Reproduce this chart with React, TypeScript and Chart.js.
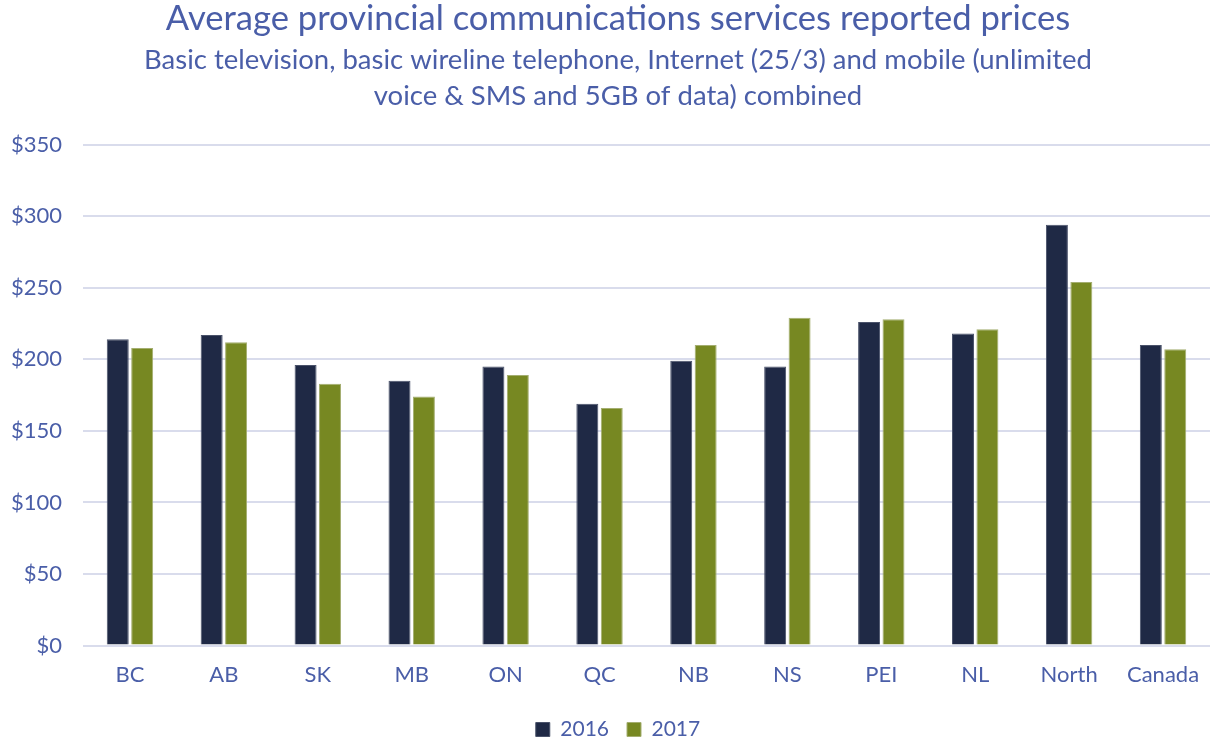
import React, { useEffect, useRef } from "react";
import { Chart, registerables } from "chart.js";

Chart.register(...registerables);

const categories = ["BC", "AB", "SK", "MB", "ON", "QC", "NB", "NS", "PEI", "NL", "North", "Canada"];
const values2016 = [214, 217, 196, 185, 195, 169, 199, 195, 226, 218, 294, 210];
const values2017 = [208, 212, 183, 174, 189, 166, 210, 229, 228, 221, 254, 207];
const seriesLabels = ["2016", "2017"];
const titleText = "Average provincial communications services reported prices";
const subtitleLines = [
  "Basic television, basic wireline telephone, Internet (25/3) and mobile (unlimited",
  "voice & SMS and 5GB of data) combined",
];

const TEXT = "#4a5ea8";
const FONT = "Lato, 'Open Sans', sans-serif";

// let y tick labels extend left of the (shifted) scale box without clipping
const unclipY = {
  id: "unclipY",
  afterLayout(chart: any) {
    const y = chart.scales.y;
    if (y) y.left = 0;
  },
};

export default function App() {
  const ref = useRef<HTMLCanvasElement | null>(null);
  useEffect(() => {
    if (!ref.current) return;
    const chart = new Chart(ref.current, {
      type: "bar",
      data: {
        labels: categories,
        datasets: [
          { label: seriesLabels[0], data: values2016, backgroundColor: "#1f2945", borderColor: "#4a526a", borderWidth: 1 },
          { label: seriesLabels[1], data: values2017, backgroundColor: "#778822", borderColor: "#a4ae70", borderWidth: 1 },
        ],
      },
      plugins: [unclipY],
      options: {
        responsive: false,
        animation: false,
        devicePixelRatio: 1,
        layout: { padding: { left: 26, right: 0, top: 0, bottom: -10 } },
        datasets: { bar: { categoryPercentage: 0.52, barPercentage: 0.9 } },
        plugins: {
          title: {
            display: true,
            text: titleText,
            color: TEXT,
            font: { family: FONT, size: 34.6, weight: "normal", lineHeight: 1.03 },
            padding: { top: 1, bottom: 5 },
          },
          subtitle: {
            display: true,
            text: subtitleLines,
            color: TEXT,
            font: { family: FONT, size: 27.5, weight: "normal", lineHeight: 1.309 },
            padding: { top: 0, bottom: 31 },
          },
          legend: {
            display: true,
            position: "bottom",
            labels: {
              color: TEXT,
              font: { family: FONT, size: 21 },
              boxWidth: 14,
              boxHeight: 14,
              padding: 18,
            },
          },
          tooltip: { enabled: false },
        },
        scales: {
          x: {
            grid: { display: true, drawOnChartArea: false, drawTicks: true, tickLength: 13, color: "rgba(0,0,0,0)" },
            border: { display: false },
            ticks: { color: TEXT, font: { family: FONT, size: 22 }, padding: 3 },
            afterFit: (s: any) => {
              s.height = s.height + 10;
            },
          },
          y: {
            min: 0,
            max: 350,
            ticks: {
              stepSize: 50,
              color: TEXT,
              font: { family: FONT, size: 22 },
              padding: 21,
              callback: (v: any) => "$" + v,
            },
            grid: { color: "#d9dcec", lineWidth: 2, drawTicks: false },
            border: { display: false },
            afterFit: (s: any) => {
              s.width = 57;
            },
          },
        },
      },
    });
    return () => chart.destroy();
  }, []);
  return (
    <div style={{ position: "absolute", left: 0, top: 0, width: 1210, height: 740, background: "#fff" }}>
      <canvas ref={ref} width={1210} height={740} />
    </div>
  );
}
